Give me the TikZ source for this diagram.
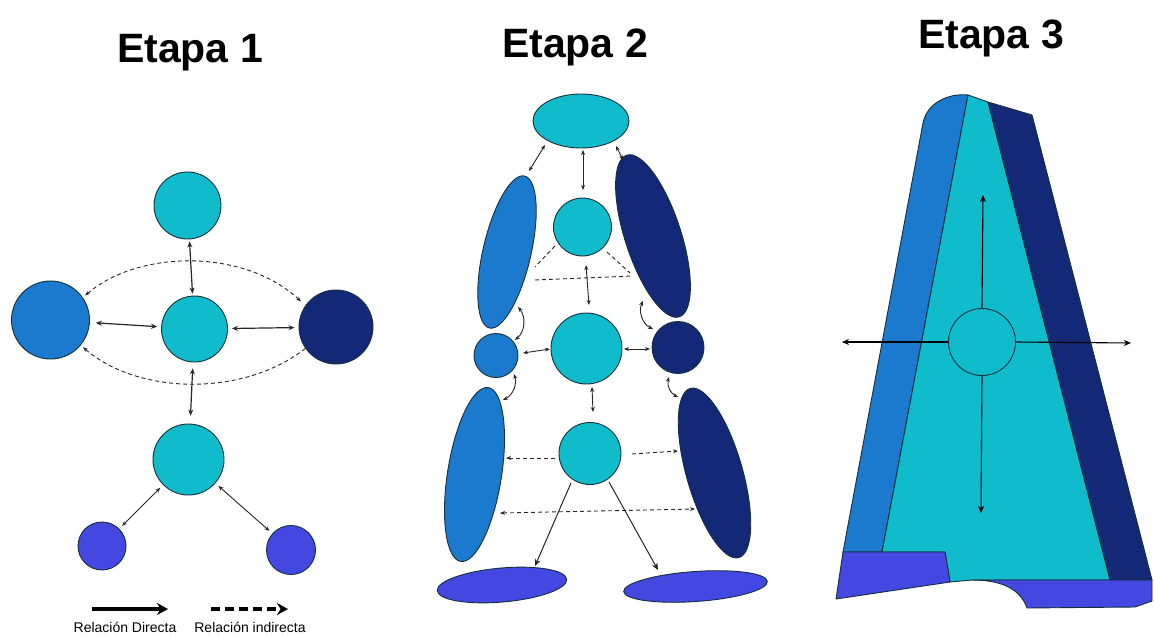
\documentclass[tikz,border=0pt]{standalone}
\usepackage{fontspec}
\setmainfont{Liberation Sans}
\usetikzlibrary{shapes.geometric,arrows.meta,calc}
\definecolor{cy}{HTML}{10BCCC}
\definecolor{lb}{HTML}{1C7ACE}
\definecolor{nv}{HTML}{142878}
\definecolor{pu}{HTML}{4448E1}
\definecolor{outl}{HTML}{14303C}
\begin{document}
\begin{tikzpicture}[x=1pt,y=-1pt,
  circ/.style={circle,draw=outl,line width=0.9pt,inner sep=0pt,minimum size=#1},
  ell/.style={ellipse,draw=outl,line width=0.9pt,inner sep=0pt},
  ttl/.style={font=\fontsize{41}{41}\selectfont\bfseries,anchor=base,inner sep=0pt},
  lgtext/.style={font=\fontsize{14}{14}\selectfont,anchor=base,inner sep=0pt},
  tipA/.tip={Stealth[length=6pt,width=5pt]},
  tipB/.tip={Stealth[length=5pt,width=4pt]},
  dblA/.style={tipA-tipA,line width=1.2pt,black!85},
  dblB/.style={tipB-tipB,line width=0.9pt,black!85},
  oneB/.style={-{Stealth[length=7pt,width=6pt]},line width=1pt,black!85},
  dsh/.style={dash pattern=on 4pt off 3pt,line width=0.9pt,black!85},
  arr3/.style={-{Stealth[length=7pt,width=6pt]},line width=1.1pt,black},
  lgarrow/.style={line width=3.4pt,-{Stealth[length=11pt,width=12pt]}},
  region/.style={draw=outl,line width=0.9pt,line join=round}
]
\useasboundingbox (0,0) rectangle (1154,635);

% ---------- titles ----------
\node[ttl] (title1) at (190,62) {Etapa 1};
\node[ttl] (title2) at (575,57) {Etapa 2};
\node[ttl] (title3) at (991,48) {Etapa 3};

% ---------- Etapa 1 ----------
\node[circ=67pt,fill=cy] (t1) at (187.5,205.5) {};
\node[circ=66pt,fill=cy] (c1) at (194.5,329) {};
\node[circ=78pt,fill=lb] (l1) at (50.5,320) {};
\node[circ=74pt,fill=nv] (r1) at (336,327) {};
\node[circ=71pt,fill=cy] (b1) at (188.5,459.5) {};
\node[circ=48pt,fill=pu] (bl1) at (102,546) {};
\node[circ=49pt,fill=pu] (br1) at (291,550) {};

\draw[dblA,shorten <=2pt,shorten >=2pt] (t1) -- (c1);
\draw[dblA,shorten <=6pt,shorten >=4pt] (l1) -- (c1);
\draw[dblA,shorten <=4pt,shorten >=4pt] (c1) -- (r1);
\draw[dblA,shorten <=6pt,shorten >=8pt] (c1) -- (b1);
\draw[dblB,shorten <=4pt,shorten >=4pt] (b1) -- (bl1);
\draw[dblB,shorten <=4pt,shorten >=4pt] (b1) -- (br1);
\draw[dsh,tipB-tipB,shorten <=3pt,shorten >=6pt] (l1.35) .. controls (140,249) and (245,249) .. (r1.145);
\draw[dsh,-tipB,shorten >=3pt] (r1.-145) .. controls (245,396) and (140,396) .. (l1.-40);

% legend
\coordinate (lgA1) at (92,609);
\coordinate (lgA2) at (168,609);
\coordinate (lgB1) at (211,609);
\coordinate (lgB2) at (288,609);
\draw[lgarrow] (lgA1) -- (lgA2);
\draw[lgarrow,dash pattern=on 9pt off 5pt] (lgB1) -- (lgB2);
\node[lgtext] (lgT1) at (125,632) {Relación Directa};
\node[lgtext] (lgT2) at (250,632) {Relación indirecta};

% ---------- Etapa 2 ----------
\node[ell,fill=cy,minimum width=96pt,minimum height=54pt] (te) at (581,121) {};
\node[ell,fill=lb,minimum width=48pt,minimum height=156pt,rotate=-13] (le) at (507,252) {};
\node[circ=58pt,fill=cy] (cs) at (582.5,227) {};
\node[ell,fill=nv,minimum width=56pt,minimum height=170pt,rotate=18] (re) at (653,236) {};
\node[circ=44pt,fill=lb] (ml) at (496,355.5) {};
\node[circ=71pt,fill=cy] (mc) at (586.5,348.5) {};
\node[circ=52pt,fill=nv] (mr) at (678,347.5) {};
\node[circ=62pt,fill=cy] (lc) at (590,453.5) {};
\node[ell,fill=lb,minimum width=54pt,minimum height=176pt,rotate=-9] (lle) at (474.5,474.5) {};
\node[ell,fill=nv,minimum width=56pt,minimum height=176pt,rotate=16] (lre) at (714.5,473) {};
\node[ell,fill=pu,minimum width=130pt,minimum height=34pt,rotate=5] (ble) at (502,585) {};
\node[ell,fill=pu,minimum width=144pt,minimum height=30pt,rotate=4] (bre) at (695.5,586.5) {};

\draw[dblB] ($(te)+(-36,24)$) -- ($(le)+(22,-81)$);
\draw[dblB] ($(te)+(2,29)$) -- ($(cs)+(0.5,-37)$);
\draw[dblB] ($(te)+(35,25)$) -- ($(re)+(-30,-76)$);
\coordinate (dl1) at ($(le)+(28,15)$);
\coordinate (dr1) at ($(re)+(-23,37)$);
\draw[dsh] ($(cs)+(-27.5,19)$) -- (dl1);
\draw[dsh] ($(cs)+(24.5,25)$) -- (dr1);
\draw[dsh] ($(le)+(28,28)$) -- ($(re)+(-21,40)$);
\draw[dblB] ($(cs)+(3.5,38)$) -- ($(mc)+(2.5,-43.5)$);
\draw[dblB] ($(le)+(11,55)$) to[bend left=45] ($(ml)+(19,-15.5)$);
\draw[dblB] ($(re)+(-10,65)$) to[bend right=45] ($(mr)+(-25,-18.5)$);
\draw[dblB] ($(ml)+(27,-2.5)$) -- ($(mc)+(-36.5,0.5)$);
\draw[dblB] ($(mc)+(37.5,0.5)$) -- ($(mr)+(-28,1.5)$);
\draw[dblB] ($(ml)+(18,18.5)$) to[bend left=40] ($(lle)+(28.5,-74.5)$);
\draw[dblB] ($(mr)+(-9,29.5)$) to[bend right=40] ($(lre)+(-36.5,-76)$);
\draw[dblB] ($(mc)+(5.5,38.5)$) -- ($(lc)+(3,-41.5)$);
\draw[dsh,-tipB] ($(lc)+(-35,4.5)$) -- ($(lle)+(31.5,-16.5)$);
\draw[dsh,-tipB] ($(lc)+(42,0.5)$) -- ($(lre)+(-36.5,-22)$);
\draw[dsh,tipB-tipB] ($(lle)+(25.5,38.5)$) -- ($(lre)+(-19.5,36)$);
\draw[oneB] ($(lc)+(-19,29.5)$) -- ($(ble)+(33,-19)$);
\draw[oneB] ($(lc)+(19,28.5)$) -- ($(bre)+(-37.5,-16.5)$);

% ---------- Etapa 3 ----------
\path[region,fill=lb] (923,123) .. controls (927,103) and (948,93) .. (968,95) -- (882,552) -- (843,552) -- cycle;
\path[region,fill=cy] (968,95) -- (988,102) -- (1110,580) -- (972,580) -- (950,582) -- (945,552) -- (882,552) -- cycle;
\path[region,fill=nv] (988,102) -- (1032,115) -- (1152,580) -- (1110,580) -- cycle;
\path[region,fill=pu] (843,552) -- (945,552) -- (950,582) -- (836,599) -- cycle;
\path[region,fill=pu] (972,580) -- (1152,580) -- (1152,601) -- (1135,607) -- (1027,608) .. controls (1020,588) and (1000,580) .. (972,580) -- cycle;
\node[circ=67pt,fill=cy] (ctr) at (982,342) {};
\draw[arr3] (ctr.north) -- ($(ctr)+(1,-147)$);
\draw[arr3] (ctr.south) -- ($(ctr)+(-1,171)$);
\draw[arr3] (ctr.west) -- ($(ctr)+(-140,0)$);
\draw[arr3] (ctr.east) -- ($(ctr)+(149,1)$);
\end{tikzpicture}
\end{document}
